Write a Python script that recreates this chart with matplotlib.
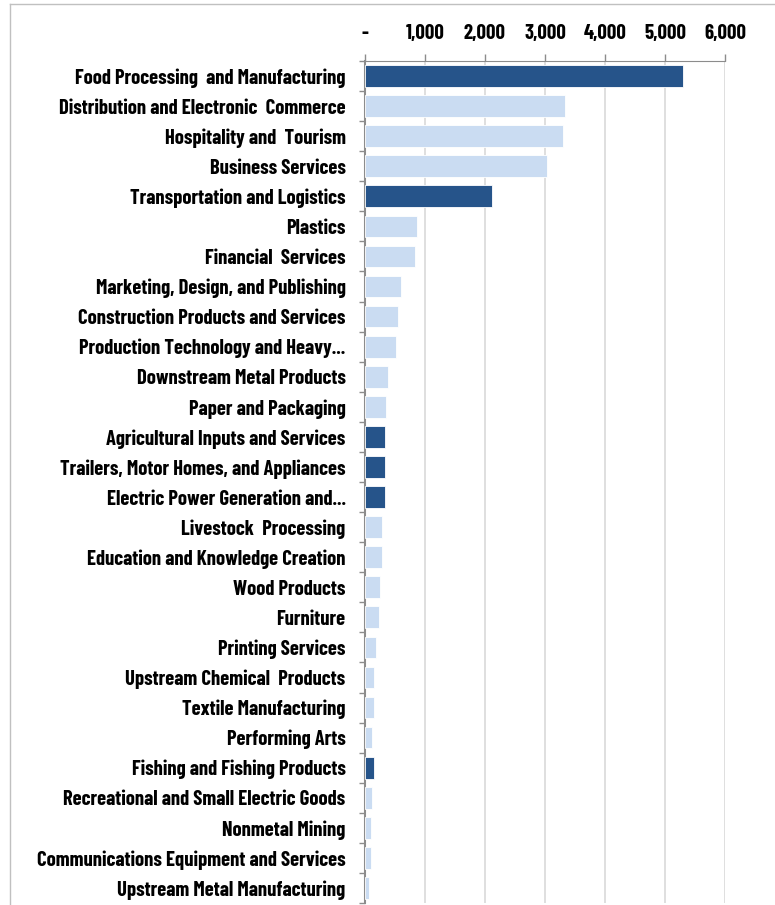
import matplotlib
matplotlib.use('Agg')
from matplotlib import pyplot as plt
from matplotlib.lines import Line2D
from matplotlib.ticker import FuncFormatter
import numpy as np

FONT = ['Barlow Condensed', 'Liberation Sans', 'DejaVu Sans']
plt.rcParams['font.family'] = FONT

categories = [
    'Food Processing  and Manufacturing',
    'Distribution and Electronic  Commerce',
    'Hospitality and  Tourism',
    'Business Services',
    'Transportation and Logistics',
    'Plastics',
    'Financial  Services',
    'Marketing, Design, and Publishing',
    'Construction Products and Services',
    'Production Technology and Heavy...',
    'Downstream Metal Products',
    'Paper and Packaging',
    'Agricultural Inputs and Services',
    'Trailers, Motor Homes, and Appliances',
    'Electric Power Generation and...',
    'Livestock  Processing',
    'Education and Knowledge Creation',
    'Wood Products',
    'Furniture',
    'Printing Services',
    'Upstream Chemical  Products',
    'Textile Manufacturing',
    'Performing Arts',
    'Fishing and Fishing Products',
    'Recreational and Small Electric Goods',
    'Nonmetal Mining',
    'Communications Equipment and Services',
    'Upstream Metal Manufacturing',
]
values = [5295, 3340, 3305, 3040, 2110, 860, 840, 600, 545, 517,
          385, 355, 333, 333, 333, 278, 278, 256, 228, 175,
          145, 145, 122, 150, 122, 95, 95, 67]
highlight = [1, 0, 0, 0, 1, 0, 0, 0, 0, 0,
             0, 0, 1, 1, 1, 0, 0, 0, 0, 0,
             0, 0, 0, 1, 0, 0, 0, 0]
x_ticks = [0, 1000, 2000, 3000, 4000, 5000, 6000]

DARK = '#26548a'
LIGHT = '#cadcf2'
AXIS = '#8c8c8c'
GRID = '#d9d9d9'

fig = plt.figure(figsize=(7.75, 9.05), dpi=100)
ax = fig.add_axes([365 / 775, 1 - 903 / 905, 360 / 775, 842 / 905])

y = np.arange(len(categories))
colors = [DARK if h else LIGHT for h in highlight]
ax.barh(y, values, height=0.72, color=colors, edgecolor='white', linewidth=0.6, zorder=3)

ax.set_ylim(len(categories) - 0.5, -0.5)
ax.set_xlim(0, 6000)

# x axis on top
ax.xaxis.tick_top()
ax.set_xticks(x_ticks)
ax.xaxis.set_major_formatter(FuncFormatter(lambda v, p: '-' if v == 0 else f'{int(v):,}'))
ax.tick_params(axis='x', length=5, width=1, color=AXIS, pad=8, labelsize=15)
for lab in ax.get_xticklabels():
    lab.set_fontweight('bold')

# y ticks between categories, labels at centers
ax.set_yticks(y)
ax.set_yticklabels(categories, fontsize=14.8, fontweight='bold')
ax.tick_params(axis='y', length=0, pad=14)
ax.set_yticks(np.arange(len(categories) + 1) - 0.5, minor=True)
ax.tick_params(axis='y', which='minor', length=4, width=1, color=AXIS)

ax.grid(axis='x', color=GRID, linewidth=1.2, zorder=0)
for s in ['right', 'bottom']:
    ax.spines[s].set_visible(False)
ax.spines['top'].set_color(AXIS)
ax.spines['left'].set_color(AXIS)
ax.spines['left'].set_linewidth(1.5)

# outer frame of the chart area
fig.add_artist(Line2D([10 / 775, 1], [1 - 4 / 905] * 2, color='#c0c0c0', linewidth=1))
fig.add_artist(Line2D([10 / 775] * 2, [0, 1 - 4 / 905], color='#c0c0c0', linewidth=1))

plt.savefig('out.png', dpi=100)
plt.close()
